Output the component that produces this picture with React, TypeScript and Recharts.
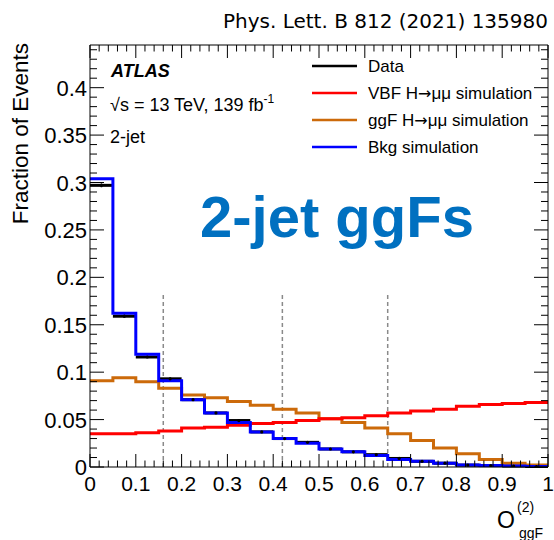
import { ComposedChart, Line, Scatter, ErrorBar, XAxis, YAxis, ReferenceLine } from "recharts";

// 20 bins of width 0.05 on O_ggF^(2)
const binEdges = [0, 0.05, 0.1, 0.15, 0.2, 0.25, 0.3, 0.35, 0.4, 0.45, 0.5, 0.55, 0.6, 0.65, 0.7, 0.75, 0.8, 0.85, 0.9, 0.95, 1];
const binCenters = [0.025, 0.075, 0.125, 0.175, 0.225, 0.275, 0.325, 0.375, 0.425, 0.475, 0.525, 0.575, 0.625, 0.675, 0.725, 0.775, 0.825, 0.875, 0.925, 0.975];

const dataFrac = [0.297, 0.159, 0.116, 0.093, 0.071, 0.057, 0.049, 0.037, 0.030, 0.026, 0.019, 0.016, 0.013, 0.009, 0.006, 0.004, 0.002, 0.0015, 0.001, 0.0005];
const dataErr = [0.002, 0.0015, 0.001, 0.001, 0.001, 0.0008, 0.0008, 0.0006, 0.0006, 0.0005, 0.0005, 0.0004, 0.0004, 0.0003, 0.0003, 0.0002, 0.0002, 0.0002, 0.0001, 0.0001];
const bkgFrac = [0.304, 0.162, 0.119, 0.091, 0.071, 0.057, 0.047, 0.037, 0.030, 0.025, 0.019, 0.016, 0.012, 0.008, 0.006, 0.004, 0.002, 0.0015, 0.001, 0.0005];
const vbfFrac = [0.035, 0.035, 0.036, 0.038, 0.041, 0.042, 0.044, 0.046, 0.047, 0.049, 0.051, 0.052, 0.054, 0.057, 0.059, 0.061, 0.064, 0.066, 0.067, 0.068];
const ggfFrac = [0.091, 0.094, 0.090, 0.083, 0.076, 0.073, 0.069, 0.065, 0.061, 0.057, 0.051, 0.047, 0.041, 0.035, 0.028, 0.020, 0.014, 0.008, 0.004, 0.002];

// category boundaries (dashed lines)
const cutValues = [0.16, 0.42, 0.65];
const cutHeight = 0.183;

const xTicks = Array.from({ length: 51 }, (_, i) => i * 0.02);
const yTicks = Array.from({ length: 45 }, (_, i) => i * 0.01);

const legendItems = [
  { pre: "Data", arrow: false, color: "#000000" },
  { pre: "VBF H", arrow: true, color: "#ff0000" },
  { pre: "ggF H", arrow: true, color: "#cc6a0a" },
  { pre: "Bkg simulation", arrow: false, color: "#0000ff" },
];

const FONT = "'Liberation Sans', Arial, Helvetica, sans-serif";

const histRows = binEdges.map((x, i) => {
  const k = Math.min(i, binCenters.length - 1);
  return { x, bkg: bkgFrac[k], vbf: vbfFrac[k], ggf: ggfFrac[k] };
});

const dataRows = binCenters.map((x, i) => ({ x, y: dataFrac[i], xerr: 0.025, yerr: dataErr[i] }));

const isMajor = (v: number, step: number) => Math.abs(v / step - Math.round(v / step)) < 1e-6;

const BottomTick = (props: any) => {
  const { x, y, payload } = props;
  const v = payload.value;
  const major = isMajor(v, 0.1);
  return (
    <g>
      <line x1={x} y1={y} x2={x} y2={y - (major ? 13 : 6.5)} stroke="#000" />
      {major && (
        <text x={x} y={y + 24} textAnchor="middle" fontSize={21} fontFamily={FONT} fill="#000">
          {String(Math.round(v * 10) / 10)}
        </text>
      )}
    </g>
  );
};

const TopTick = (props: any) => {
  const { x, y, payload } = props;
  const major = isMajor(payload.value, 0.1);
  return <line x1={x} y1={y} x2={x} y2={y + (major ? 13 : 6.5)} stroke="#000" />;
};

const LeftTick = (props: any) => {
  const { x, y, payload } = props;
  const v = payload.value;
  const major = isMajor(v, 0.05);
  return (
    <g>
      <line x1={x} y1={y} x2={x + (major ? 14 : 7)} y2={y} stroke="#000" />
      {major && (
        <text x={x - 3} y={y + 8} textAnchor="end" fontSize={22} fontFamily={FONT} fill="#000">
          {String(Math.round(v * 100) / 100)}
        </text>
      )}
    </g>
  );
};

const RightTick = (props: any) => {
  const { x, y, payload } = props;
  const major = isMajor(payload.value, 0.05);
  return <line x1={x} y1={y} x2={x - (major ? 14 : 7)} y2={y} stroke="#000" />;
};

const DataDot = (props: any) => {
  const { cx, cy } = props;
  return <circle cx={cx} cy={cy} r={1.6} fill="#000" />;
};

export default function App() {
  return (
    <div style={{ position: "absolute", left: 0, top: 0, width: 554, height: 540, background: "#fff" }}>
      <ComposedChart width={554} height={540} data={histRows} margin={{ top: 44, right: 5, bottom: 43, left: 50 }}>
        <XAxis xAxisId="b" dataKey="x" type="number" domain={[0, 1]} allowDataOverflow ticks={xTicks} interval={0}
          tickSize={0} tickMargin={0} height={30} tick={<BottomTick />} axisLine={{ stroke: "#000" }} tickLine={false} />
        <XAxis xAxisId="t" orientation="top" dataKey="x" type="number" domain={[0, 1]} allowDataOverflow ticks={xTicks} interval={0}
          tickSize={0} tickMargin={0} height={1} tick={<TopTick />} axisLine={{ stroke: "#000" }} tickLine={false} />
        <YAxis yAxisId="l" type="number" domain={[0, 0.445]} allowDataOverflow ticks={yTicks} interval={0}
          tickSize={0} tickMargin={0} width={40} tick={<LeftTick />} axisLine={{ stroke: "#000" }} tickLine={false} />
        <YAxis yAxisId="r" orientation="right" type="number" domain={[0, 0.445]} allowDataOverflow ticks={yTicks} interval={0}
          tickSize={0} tickMargin={0} width={1} tick={<RightTick />} axisLine={{ stroke: "#000" }} tickLine={false} />

        {cutValues.map((c) => (
          <ReferenceLine key={c} xAxisId="b" yAxisId="l" segment={[{ x: c, y: 0 }, { x: c, y: cutHeight }]}
            stroke="#8a8a8a" strokeWidth={1.5} strokeDasharray="4 3" />
        ))}

        <Scatter xAxisId="b" yAxisId="l" data={dataRows} dataKey="y" shape={<DataDot />} isAnimationActive={false}>
          <ErrorBar dataKey="xerr" direction="x" width={0} stroke="#000" strokeWidth={3} isAnimationActive={false} />
          <ErrorBar dataKey="yerr" direction="y" width={0} stroke="#000" strokeWidth={1.5} isAnimationActive={false} />
        </Scatter>
        <Line xAxisId="b" yAxisId="l" type="stepAfter" dataKey="ggf" stroke="#cc6a0a" strokeWidth={3} dot={false} isAnimationActive={false} />
        <Line xAxisId="b" yAxisId="l" type="stepAfter" dataKey="vbf" stroke="#ff0000" strokeWidth={3} dot={false} isAnimationActive={false} />
        <Line xAxisId="b" yAxisId="l" type="stepAfter" dataKey="bkg" stroke="#0000ff" strokeWidth={3} dot={false} isAnimationActive={false} />
      </ComposedChart>

      <svg width={554} height={540} style={{ position: "absolute", left: 0, top: 0, pointerEvents: "none" }} fontFamily={FONT}>
        <text x={548} y={28} textAnchor="end" fontSize={20} fontFamily="'DejaVu Sans', sans-serif">Phys. Lett. B 812 (2021) 135980</text>

        <text transform="translate(28,43) rotate(-90)" textAnchor="end" fontSize={22.5}>Fraction of Events</text>

        <text x={111} y={77} fontSize={18} fontWeight="bold" fontStyle="italic">ATLAS</text>
        <text x={110} y={111} fontSize={18}>
          {"\u221as = 13 TeV, 139 fb"}
          <tspan dy={-8} fontSize={12}>-1</tspan>
        </text>
        <text x={110} y={143} fontSize={18}>2-jet</text>

        {legendItems.map((it, i) => (
          <g key={it.pre}>
            <line x1={312} x2={357} y1={66 + i * 27} y2={66 + i * 27} stroke={it.color} strokeWidth={2.5} />
            <text x={368} y={72 + i * 27} fontSize={17}>
              {it.pre}
              {it.arrow && (
                <>
                  <tspan fontFamily="'DejaVu Sans', sans-serif" fontSize={16}>{"\u2192"}</tspan>
                  {"\u03bc\u03bc simulation"}
                </>
              )}
            </text>
          </g>
        ))}

        <text x={200} y={237} fontSize={58} fontWeight="bold" fill="#0070c0">2-jet ggFs</text>

        <text x={497} y={528} fontSize={23}>O</text>
        <text x={517} y={512} fontSize={14}>(2)</text>
        <text x={519} y={538} fontSize={14}>ggF</text>
      </svg>
    </div>
  );
}
